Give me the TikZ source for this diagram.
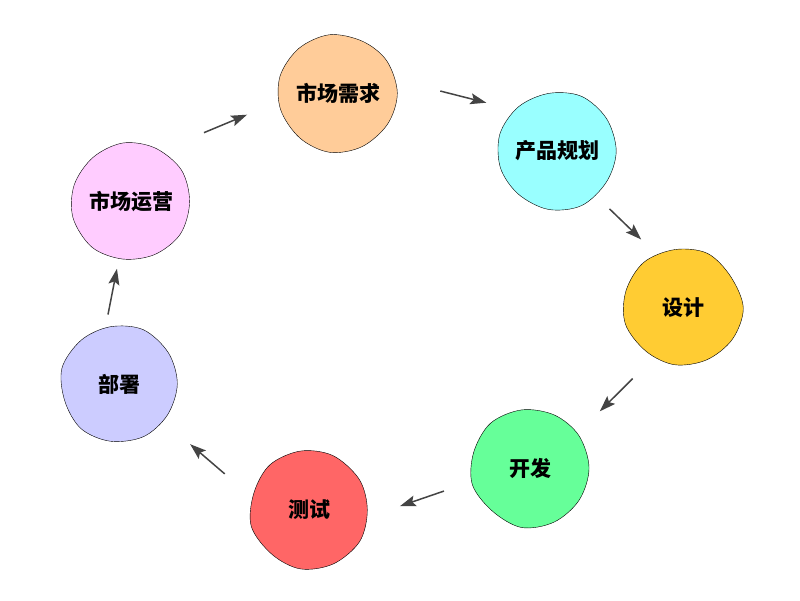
\documentclass[tikz,border=0pt]{standalone}
\usepackage{fontspec}
\newfontfamily\cjk{Noto Sans CJK SC}
\usepackage{xcolor}
\usepackage{tikz}
\usetikzlibrary{arrows.meta}

\definecolor{peach}{HTML}{FFCC99}
\definecolor{aqua}{HTML}{99FFFF}
\definecolor{gold}{HTML}{FFCC33}
\definecolor{mint}{HTML}{66FF99}
\definecolor{salmon}{HTML}{FF6666}
\definecolor{lavender}{HTML}{CCCCFF}
\definecolor{pinkish}{HTML}{FFCCFF}
\definecolor{arrowgray}{HTML}{444444}

\begin{document}
\begin{tikzpicture}[x=1pt,y=-1pt]
	\pgfmathsetseed{11}
	\tikzstyle{blob}=[circle,minimum size=118pt,inner sep=0pt,font=\cjk\bfseries\fontsize{21}{25}\selectfont]
	\tikzstyle{outline}=[draw=black,thin,line join=round]
	\tikzstyle{arr}=[draw=arrowgray,line width=1.5pt,-{Stealth[length=16pt,width=11pt,inset=3pt]}]
	\useasboundingbox (0,0) rectangle (800,600);
	\foreach \n/\x/\y/\c/\t in {v1/338/93/peach/市场需求, v2/557/151/aqua/产品规划,
		v3/683/308/gold/设计, v4/530/468/mint/开发, v5/309/510/salmon/测试,
		v6/119/384/lavender/部署, v7/131/202/pinkish/市场运营}{
		\draw[outline,fill=\c] plot[smooth cycle,tension=0.55,samples=11,domain=0:327.27,variable=\a]
			({\x+(58.5+2*rand)*cos(\a)},{\y+(58.5+2*rand)*sin(\a)});
		\node[blob](\n) at (\x,\y) {\t};
	}
	\draw[arr,shorten <=47pt,shorten >=35pt](v7.60) -- (v1.188);
	\draw[arr,shorten <=46pt,shorten >=29pt](v1.13) -- (v2.136);
	\draw[arr,shorten <=19pt,shorten >=22pt](v2.-49) -- (v3.116);
	\draw[arr,shorten <=28pt,shorten >=31pt](v3.239) -- (v4.36);
	\draw[arr,shorten <=30pt,shorten >=34pt](v4.193) -- (v5.-7);
	\draw[arr,shorten <=35pt,shorten >=34pt](v5.167) -- (v6.-40);
	\draw[arr,shorten <=12pt,shorten >=9pt](v6.103) -- (v7.258);
\end{tikzpicture}
\end{document}
